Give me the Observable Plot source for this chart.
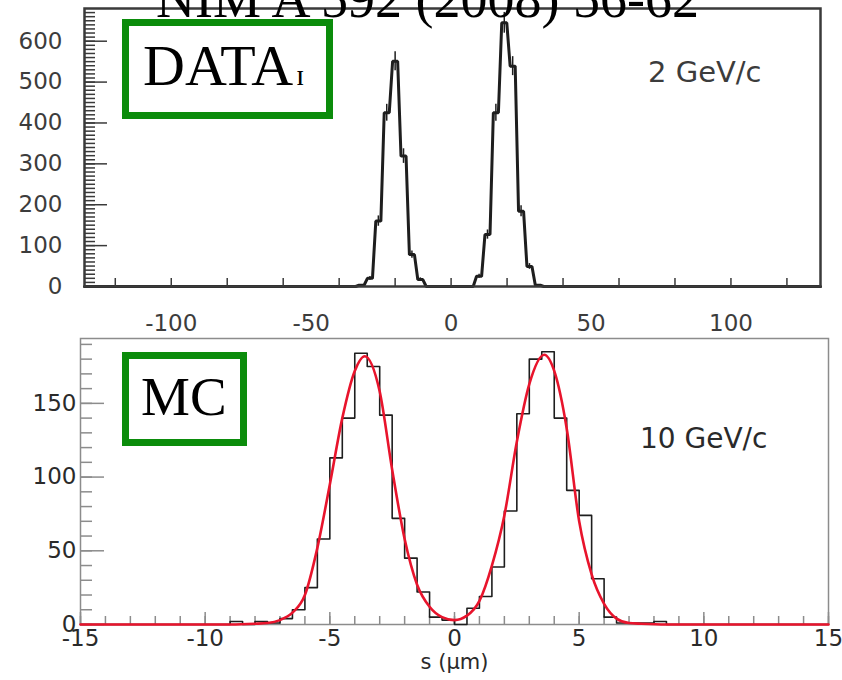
<!DOCTYPE html>
<html><head><meta charset="utf-8">
<script src="https://cdn.jsdelivr.net/npm/d3@7"></script>
<script src="https://cdn.jsdelivr.net/npm/@observablehq/plot@0.6"></script>
<style>
html,body{margin:0;padding:0;background:#fff;}
#wrap{position:relative;width:842px;height:680px;overflow:hidden;background:#fff;}
#top{position:absolute;left:0;top:0;}
#bottom{position:absolute;left:0;top:335px;}
#overlay{position:absolute;left:0;top:0;pointer-events:none;}
</style></head><body>
<div id="wrap"><div id="top"></div><div id="bottom"></div>
<svg id="overlay" width="842" height="680" xmlns="http://www.w3.org/2000/svg"></svg></div>
<script>
// ---------- data ----------
const titleText = "NIM A 592 (2008) 56-62";
const topTag = "DATA";
const topTagSuffix = "ɪ";
const bottomTag = "MC";
const topMomentum = "2 GeV/c";
const bottomMomentum = "10 GeV/c";
const xLabel = "s (µm)";

// DATA histogram (2 GeV/c), bin centres in µm and counts
const dataBinWidth = 3;
const dataBinCenters = [-35, -32, -29, -26, -23, -20, -17, -14, -11, -8, -5, -2, 1, 4, 7, 10, 13, 16, 19, 22, 25, 28, 31, 34];
const dataCounts     = [  0,   3,  20, 160, 425, 551, 319,  78,  17,  0,  0,  0, 0, 0, 0, 25, 127, 425, 645, 539, 184, 49, 3, 0];
const topXDomain = [-131, 132];
const topYDomain = [0, 680];
const topXTicks = [-100, -50, 0, 50, 100];
const topXMinor = [-120, -100, -80, -60, -40, -20, 0, 20, 40, 60, 80, 100, 120];
const topYTicks = [0, 100, 200, 300, 400, 500, 600];
const topYMinorStep = 10;

// MC histogram (10 GeV/c), bins of 0.5 µm starting at -9 µm
const mcBinStart = -9;
const mcBinWidth = 0.5;
const mcCounts = [2, 0, 2, 1, 4, 10, 25, 58, 113, 140, 184, 175, 142, 72, 45, 22, 5, 3,
                  0, 11, 19, 39, 77, 143, 180, 185, 140, 91, 74, 31, 5, 1, 1, 1, 2, 0];
// fitted double-gaussian curve
const fitX = [-15, -9, -8, -7.5, -7, -6.5, -6, -5.5, -5, -4.5, -4, -3.6, -3, -2.5, -2, -1.5, -1, -0.5, 0, 0.5, 1, 1.5, 2, 2.5, 3, 3.6, 4, 4.5, 5, 5.5, 6, 6.5, 7, 7.5, 8.5, 15];
const fitY = [0, 0, 0.5, 1, 3, 8, 20, 52, 95, 140, 172, 182, 158, 105, 58, 27, 12, 5, 3, 6, 16, 40, 74, 124, 163, 183, 172, 133, 70, 34, 14, 4, 1, 0.5, 0, 0];
const bottomXDomain = [-15, 15];
const bottomYDomain = [0, 194];
const bottomXTicks = [-15, -10, -5, 0, 5, 10, 15];
const bottomXMinorStep = 1;
const bottomYTicks = [0, 50, 100, 150];
const bottomYMinorStep = 10;

// ---------- derived tables ----------
const topLine = [{x: topXDomain[0], y: 0}];
dataBinCenters.forEach((c, i) => {
  topLine.push({x: c - 0.3 * dataBinWidth, y: dataCounts[i]}, {x: c + 0.3 * dataBinWidth, y: dataCounts[i]});
});
topLine.push({x: topXDomain[1], y: 0});
const topErr = dataBinCenters.map((c, i) => ({c, v: dataCounts[i]})).filter(d => d.v > 0);

const mcLine = [{x: bottomXDomain[0], y: 0}];
mcCounts.forEach((v, i) => mcLine.push({x: mcBinStart + i * mcBinWidth, y: v}));
mcLine.push({x: mcBinStart + mcCounts.length * mcBinWidth, y: 0});
mcLine.push({x: bottomXDomain[1], y: 0});
const fit = fitX.map((x, i) => ({x, y: fitY[i]}));

const fmt = d => String(d);
const SANS = "DejaVu Sans";

// ---------- top panel ----------
const topPlot = Plot.plot({
  width: 842, height: 335,
  marginLeft: 84, marginRight: 22, marginTop: 8, marginBottom: 49,
  x: {domain: topXDomain},
  y: {domain: topYDomain},
  style: {fontFamily: SANS, background: "transparent", color: "#333"},
  marks: [
    Plot.line(topLine, {x: "x", y: "y", stroke: "#1e1e1e", strokeWidth: 3, strokeLinejoin: "miter"}),
    Plot.ruleX(topErr, {x: "c", y1: d => d.v - Math.sqrt(d.v), y2: d => d.v + Math.sqrt(d.v), stroke: "#1e1e1e", strokeWidth: 1.5, clip: false}),
    Plot.frame({stroke: "#3a3a3a", strokeWidth: 2.5}),
    Plot.axisY({ticks: d3.range(topYDomain[0], topYDomain[1], topYMinorStep), tickSize: -11, fill: "none", stroke: "#3a3a3a", strokeWidth: 1.5, label: null}),
    Plot.axisY({ticks: topYTicks, tickSize: -23, fill: "none", stroke: "#3a3a3a", strokeWidth: 1.5, label: null}),
    Plot.axisY({ticks: topYTicks, tickSize: 0, tickPadding: 22, tickFormat: fmt, fontSize: 23, fill: "#3c3c3c", label: null}),
    Plot.axisX({ticks: topXMinor, tickSize: -8, fill: "none", stroke: "#3a3a3a", strokeWidth: 1.5, label: null}),
    Plot.axisX({ticks: topXTicks, tickSize: 0, tickPadding: 28, tickFormat: fmt, fontSize: 23, fill: "#3c3c3c", label: null})
  ]
});
document.getElementById("top").appendChild(topPlot);

// ---------- bottom panel ----------
const bottomPlot = Plot.plot({
  width: 842, height: 345,
  marginLeft: 80, marginRight: 14, marginTop: 3, marginBottom: 56,
  x: {domain: bottomXDomain},
  y: {domain: bottomYDomain},
  style: {fontFamily: SANS, background: "transparent", color: "#333"},
  marks: [
    Plot.frame({stroke: "#8c8c8c", strokeWidth: 1.5}),
    Plot.axisY({ticks: d3.range(bottomYDomain[0], bottomYDomain[1], bottomYMinorStep), tickSize: -12, fill: "none", stroke: "#8c8c8c", strokeWidth: 1.5, label: null}),
    Plot.axisY({ticks: bottomYTicks, tickSize: -24, fill: "none", stroke: "#8c8c8c", strokeWidth: 1.5, label: null}),
    Plot.axisX({ticks: d3.range(bottomXDomain[0], bottomXDomain[1] + 0.01, bottomXMinorStep), tickSize: -8, fill: "none", stroke: "#8c8c8c", strokeWidth: 1.5, label: null}),
    Plot.axisX({ticks: bottomXTicks, tickSize: -12, fill: "none", stroke: "#8c8c8c", strokeWidth: 1.5, label: null}),
    Plot.line(mcLine, {x: "x", y: "y", curve: "step-after", stroke: "#1e1e1e", strokeWidth: 1.6}),
    Plot.line(fit, {x: "x", y: "y", curve: "monotone-x", stroke: "#e8142c", strokeWidth: 2.6}),
    Plot.axisY({ticks: bottomYTicks, tickSize: 0, tickPadding: 4, tickFormat: fmt, fontSize: 23, fill: "#2a2a2a", label: null}),
    Plot.axisX({ticks: bottomXTicks, tickSize: 0, tickPadding: 5, tickFormat: fmt, fontSize: 23, fill: "#2a2a2a", label: null}),
    Plot.text([xLabel], {frameAnchor: "bottom", dy: 44, fontSize: 21, fill: "#2a2a2a"})
  ]
});
document.getElementById("bottom").appendChild(bottomPlot);

// ---------- overlay annotations ----------
const ov = d3.select("#overlay");
const SERIF = "Liberation Serif";
ov.append("text").attr("x", 156).attr("y", 17).attr("font-family", SERIF).attr("font-size", 54).attr("fill", "#000").text(titleText);

ov.append("rect").attr("x", 125.5).attr("y", 22.5).attr("width", 204).attr("height", 93)
  .attr("fill", "#fff").attr("stroke", "#0b8c0b").attr("stroke-width", 7);
const dt = ov.append("text").attr("x", 143).attr("y", 85).attr("font-family", SERIF).attr("font-size", 58).attr("fill", "#000");
dt.append("tspan").text(topTag);
dt.append("tspan").attr("font-size", 30).attr("dx", 3).text(topTagSuffix);

ov.append("rect").attr("x", 125.5).attr("y", 355.5).attr("width", 118).attr("height", 87)
  .attr("fill", "#fff").attr("stroke", "#0b8c0b").attr("stroke-width", 7);
ov.append("text").attr("x", 141).attr("y", 415).attr("font-family", SERIF).attr("font-size", 55).attr("fill", "#000").text(bottomTag);

ov.append("text").attr("x", 648).attr("y", 82).attr("font-family", SANS).attr("font-size", 29).attr("fill", "#3c3c3c").text(topMomentum);
ov.append("text").attr("x", 640).attr("y", 448).attr("font-family", SANS).attr("font-size", 28).attr("fill", "#2a2a2a").text(bottomMomentum);
</script>
</body></html>
